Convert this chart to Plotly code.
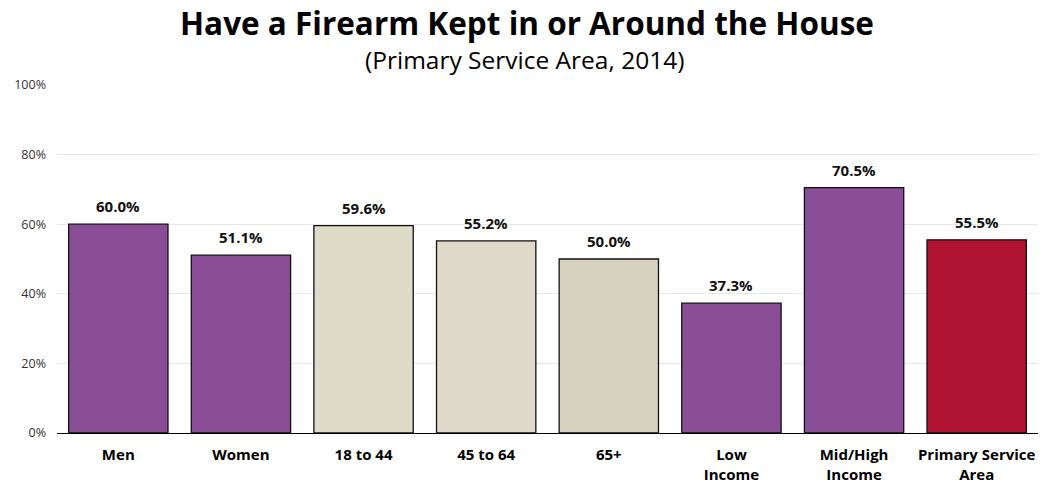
import plotly.graph_objects as go

categories = ["Men", "Women", "18 to 44", "45 to 64", "65+", "Low<br>Income", "Mid/High<br>Income", "Primary Service<br>Area"]
values = [60.0, 51.1, 59.6, 55.2, 50.0, 37.3, 70.5, 55.5]
colors = ["#8A4E96", "#8A4E96", "#DEDCC9", "#DFD9C9", "#D8D2C0", "#8A4E96", "#8A4E96", "#B01232"]
labels = [f"{v:.1f}%" for v in values]
tick_vals = [0, 20, 40, 60, 80, 100]
tick_text = ["0%", "20%", "40%", "60%", "80%", "100%"]

font = "Open Sans, Noto Sans, DejaVu Sans, sans-serif"

fig = go.Figure(go.Bar(
    x=categories, y=values,
    marker=dict(color=colors, line=dict(color="#111111", width=1.3)),
))

for c, v, t in zip(categories, values, labels):
    fig.add_annotation(x=c, y=v, text=f"<b>{t}</b>", showarrow=False, yanchor="bottom",
                       yshift=6, font=dict(family=font, size=15, color="#111111"))

fig.update_layout(
    width=1048, height=484,
    margin=dict(l=57, r=10, t=85, b=51),
    paper_bgcolor="white", plot_bgcolor="white",
    bargap=0.19,
    showlegend=False,
    font=dict(family=font),
)
fig.add_annotation(text="<b>Have a Firearm Kept in or Around the House</b>", xref="paper", yref="paper",
                   x=0.479, y=1.0, yshift=63, showarrow=False, yanchor="middle",
                   font=dict(family=font, size=31.5, color="#000000"))
fig.add_annotation(text="(Primary Service Area, 2014)", xref="paper", yref="paper",
                   x=0.477, y=1.0, yshift=26, showarrow=False, yanchor="middle",
                   font=dict(family=font, size=24.5, color="#000000"))

fig.update_yaxes(range=[0, 100], tickvals=tick_vals, ticktext=tick_text,
                 showgrid=True, gridcolor="#e8e8e8", gridwidth=1,
                 tickfont=dict(family=font, size=12.5, color="#333333"),
                 zeroline=False, showline=False, ticks="", automargin=False,
                 ticklabelstandoff=10)
fig.update_xaxes(showline=True, linecolor="#000000", linewidth=1.3,
                 tickfont=dict(family=font, size=15, color="#000000", weight="bold"),
                 ticks="", automargin=False, ticklabelstandoff=8)

fig.write_html("out.html", config={"displayModeBar": False},
               post_script="document.body.style.margin='0';")
